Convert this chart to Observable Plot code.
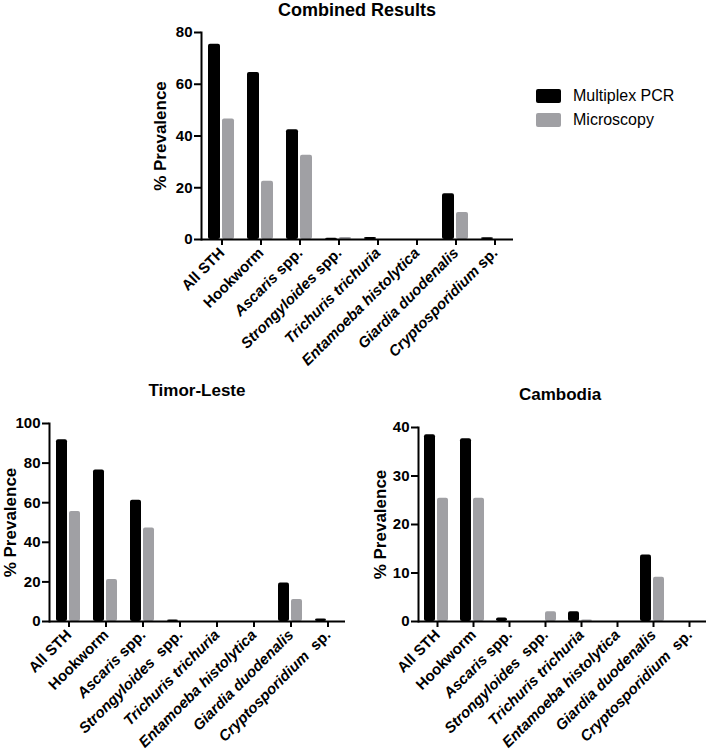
<!DOCTYPE html>
<html><head><meta charset="utf-8">
<script src="https://cdn.jsdelivr.net/npm/d3@7"></script>
<script src="https://cdn.jsdelivr.net/npm/@observablehq/plot@0.6"></script>
<style>
body{margin:0;background:#fff;}
#root{position:relative;width:710px;height:752px;font-family:Arial,"Liberation Sans",sans-serif;overflow:hidden;background:#fff;color:#000}
.title{position:absolute;font-weight:bold;line-height:1;transform:translateX(-50%);white-space:nowrap}
.legend-row{position:absolute;display:flex;align-items:center;font-size:16px;line-height:16px;white-space:nowrap}
.swatch{width:25px;height:14px;border-radius:2px;margin-right:12px}
</style></head><body><div id="root"></div>
<script>
const series = ["Multiplex PCR", "Microscopy"];
const seriesColors = ["#000000", "#a0a0a4"];
const categoriesCombined = ["All STH","Hookworm","Ascaris spp.","Strongyloides spp.","Trichuris trichuria","Entamoeba histolytica","Giardia duodenalis","Cryptosporidium sp."];
const categoriesCountry = ["All STH","Hookworm","Ascaris spp.","Strongyloides  spp.","Trichuris trichuria","Entamoeba histolytica","Giardia duodenalis","Cryptosporidium  sp."];
const italicParts = ["","","Ascaris","Strongyloides","Trichuris trichuria","Entamoeba histolytica","Giardia duodenalis","Cryptosporidium"];

const combinedPCR   = [75.5, 64.5, 42.4, 0.5, 0.8, 0, 17.7, 0.7];
const combinedMicro = [46.6, 22.5, 32.6, 0.8, 0,   0, 10.4, 0];
const timorPCR      = [91.8, 76.5, 61.3, 0.8, 0,   0, 19.5, 1.2];
const timorMicro    = [55.6, 21.2, 47.2, 0,   0,   0, 11.1, 0];
const cambodiaPCR   = [38.5, 37.7, 0.7,  0,   2.0, 0, 13.7, 0];
const cambodiaMicro = [25.4, 25.4, 0,    2.0, 0.3, 0, 9.1,  0];

const yTicksCombined = [0, 20, 40, 60, 80];
const yTicksTimor = [0, 20, 40, 60, 80, 100];
const yTicksCambodia = [0, 10, 20, 30, 40];

const titles = ["Combined Results", "Timor-Leste", "Cambodia"];
const yLabel = "% Prevalence";

const root = document.getElementById("root");
const NS = "http://www.w3.org/2000/svg";
const FONT = 'Arial, "Liberation Sans", sans-serif';

function chart({cats, pcr, micro, yTicks, left, top, width, height, margins, labelOffset}) {
  const data = cats.flatMap((c, i) => [
    {category: c, series: series[0], value: pcr[i]},
    {category: c, series: series[1], value: micro[i]}
  ]);
  const svg = Plot.plot({
    width, height, ...margins,
    style: {fontFamily: FONT, fontSize: "15px", fontWeight: "bold", color: "#000", background: "transparent", overflow: "visible"},
    fx: {domain: cats, padding: 0, label: null},
    x: {domain: series, paddingInner: 0.17, paddingOuter: 0.42, axis: null},
    y: {domain: [0, yTicks[yTicks.length - 1]]},
    color: {domain: series, range: seriesColors},
    marks: [
      Plot.barY(data, {fx: "category", x: "series", y: "value", fill: "series", rx: 2}),
      Plot.ruleY([0], {stroke: "#000", strokeWidth: 2}),
      Plot.frame({anchor: "left", stroke: "#000", strokeWidth: 2, facetAnchor: "left"}),
      Plot.axisY({ticks: yTicks, tickSize: 7, tickPadding: 2, strokeWidth: 2, label: yLabel, labelAnchor: "center", labelOffset, labelArrow: "none"}),
      Plot.axisFx({anchor: "bottom", tickRotate: -45, tickSize: 6, tickPadding: 5, dx: 1, strokeWidth: 2, label: null, fontSize: 15})
    ]
  });
  svg.style.position = "absolute";
  svg.style.left = left + "px";
  svg.style.top = top + "px";
  svg.querySelectorAll("text").forEach(t => {
    const label = t.textContent;
    if (label === yLabel) { t.setAttribute("font-size", "17"); return; }
    const i = cats.indexOf(label);
    if (i < 0) return;
    t.setAttribute("xml:space", "preserve");
    t.style.whiteSpace = "pre";
    const it = italicParts[i];
    if (!it) return;
    const rest = label.slice(it.length);
    t.textContent = "";
    const a = document.createElementNS(NS, "tspan");
    a.setAttribute("font-style", "italic");
    a.textContent = it;
    t.appendChild(a);
    if (rest) {
      const b = document.createElementNS(NS, "tspan");
      b.textContent = rest;
      t.appendChild(b);
    }
  });
  root.appendChild(svg);
}

chart({cats: categoriesCombined, pcr: combinedPCR, micro: combinedMicro, yTicks: yTicksCombined,
  left: 130, top: 20, width: 400, height: 360,
  margins: {marginLeft: 71, marginRight: 17, marginTop: 12, marginBottom: 141}, labelOffset: 48});
chart({cats: categoriesCountry, pcr: timorPCR, micro: timorMicro, yTicks: yTicksTimor,
  left: 0, top: 405, width: 355, height: 347,
  margins: {marginLeft: 49, marginRight: 10, marginTop: 18, marginBottom: 131}, labelOffset: 46});
chart({cats: categoriesCountry, pcr: cambodiaPCR, micro: cambodiaMicro, yTicks: yTicksCambodia,
  left: 355, top: 405, width: 355, height: 347,
  margins: {marginLeft: 60, marginRight: 2, marginTop: 22, marginBottom: 131}, labelOffset: 45});

function title(text, cx, top, size) {
  const d = document.createElement("div");
  d.className = "title";
  d.textContent = text;
  d.style.left = cx + "px";
  d.style.top = top + "px";
  d.style.fontSize = size + "px";
  root.appendChild(d);
}
title(titles[0], 357, 1, 18);
title(titles[1], 197, 382, 17);
title(titles[2], 560, 386, 17);

series.forEach((s, i) => {
  const row = document.createElement("div");
  row.className = "legend-row";
  row.style.left = "536px";
  row.style.top = (88 + i * 24) + "px";
  const sw = document.createElement("div");
  sw.className = "swatch";
  sw.style.background = seriesColors[i];
  const tx = document.createElement("span");
  tx.textContent = s;
  row.appendChild(sw);
  row.appendChild(tx);
  root.appendChild(row);
});
</script>
</body></html>
